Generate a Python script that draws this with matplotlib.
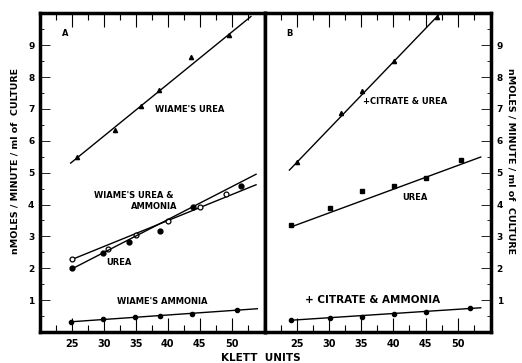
import matplotlib.pyplot as plt
from matplotlib.ticker import MultipleLocator, FixedLocator

# Panel A
wu_x = [25.8, 31.7, 35.8, 38.6, 43.7, 49.6]
wu_y = [5.5, 6.33, 7.08, 7.6, 8.63, 9.31]
wu_line_x = [24.8, 53.0]
wu_line_y = [5.3, 9.9]

wua_x = [25, 30.7, 35, 40, 45.1, 49.1]
wua_y = [2.28, 2.6, 3.04, 3.49, 3.91, 4.33]
wua_line_x = [24.8, 53.8]
wua_line_y = [2.26, 4.62]

ureaA_x = [25, 29.9, 33.9, 38.8, 44.0, 51.4]
ureaA_y = [2.0, 2.47, 2.81, 3.18, 3.93, 4.59]
ureaA_line_x = [24.8, 53.8]
ureaA_line_y = [1.96, 4.95]

wa_x = [24.8, 29.8, 34.8, 38.8, 43.8, 50.8]
wa_y = [0.32, 0.4, 0.46, 0.5, 0.58, 0.69]
wa_line_x = [24.8, 54.0]
wa_line_y = [0.32, 0.73]

# Panel B
cu_x = [25, 31.9, 35.1, 40.1, 46.8]
cu_y = [5.32, 6.86, 7.57, 8.5, 9.87]
cu_line_x = [23.8, 47.0]
cu_line_y = [5.08, 9.94]

ureaB_x = [24.1, 30.1, 35.1, 40.1, 45.1, 50.5]
ureaB_y = [3.35, 3.89, 4.42, 4.58, 4.83, 5.39]
ureaB_line_x = [24.1, 53.6]
ureaB_line_y = [3.3, 5.49]

ca_x = [24.1, 30.1, 35.1, 40.1, 45.1, 51.9]
ca_y = [0.38, 0.45, 0.48, 0.55, 0.64, 0.74]
ca_line_x = [24.1, 53.6]
ca_line_y = [0.37, 0.76]

x_ticks = [25, 30, 35, 40, 45, 50]
y_ticks = [1, 2, 3, 4, 5, 6, 7, 8, 9]
ylabel = 'nMOLES / MINUTE / ml of  CULTURE'

plt.rcParams['font.family'] = 'DejaVu Sans'
plt.rcParams['font.weight'] = 'bold'

fig = plt.figure(figsize=(5.22, 3.63), dpi=100)
axA = fig.add_axes([0.0766, 0.0854, 0.4311, 0.878])
axB = fig.add_axes([0.5077, 0.0854, 0.4329, 0.878])

for ax in (axA, axB):
    ax.set_xlim(20, 55.2)
    ax.set_ylim(0, 10)
    ax.xaxis.set_major_locator(FixedLocator(x_ticks))
    ax.xaxis.set_minor_locator(MultipleLocator(2.5))
    ax.yaxis.set_major_locator(FixedLocator(y_ticks))
    ax.yaxis.set_minor_locator(MultipleLocator(0.5))
    for s in ax.spines.values():
        s.set_linewidth(2.5)
    ax.tick_params(axis='x', which='both', direction='in', top=True, bottom=True,
                   labelsize=7, pad=5)
    ax.tick_params(axis='x', which='major', length=10, width=0.8)
    ax.tick_params(axis='x', which='minor', length=5, width=0.8)

axA.tick_params(axis='y', which='both', direction='in', left=True, right=False,
                labelsize=6.5, pad=4)
axA.tick_params(axis='y', which='major', length=7, width=0.6)
axA.tick_params(axis='y', which='minor', length=3, width=0.6)
axB.tick_params(axis='y', which='both', direction='in', left=False, right=True,
                labelleft=False, labelright=True, labelsize=6.5, pad=4)
axB.tick_params(axis='y', which='major', length=7, width=0.6)
axB.tick_params(axis='y', which='minor', length=3, width=0.6)

lw = 1.0
# Panel A
axA.plot(wu_line_x, wu_line_y, color='black', lw=lw)
axA.plot(wu_x, wu_y, '^', color='black', ms=3)
axA.plot(wua_line_x, wua_line_y, color='black', lw=lw)
axA.plot(wua_x, wua_y, 'o', mfc='white', mec='black', mew=0.9, ms=3.5)
axA.plot(ureaA_line_x, ureaA_line_y, color='black', lw=lw)
axA.plot(ureaA_x, ureaA_y, 'o', color='black', ms=3.5)
axA.plot(wa_line_x, wa_line_y, color='black', lw=lw)
axA.plot(wa_x, wa_y, 'o', color='black', ms=3)

tk = dict(fontsize=6, fontweight='bold')
axA.text(23.5, 9.3, 'A', **tk)
axA.text(38, 6.9, "WIAME'S UREA", **tk)
axA.text(28.5, 4.2, "WIAME'S UREA &", **tk)
axA.text(34.3, 3.85, "AMMONIA", **tk)
axA.text(30.3, 2.1, "UREA", **tk)
axA.text(32.0, 0.88, "WIAME'S AMMONIA", **tk)

# Panel B
axB.plot(cu_line_x, cu_line_y, color='black', lw=lw)
axB.plot(cu_x, cu_y, '^', color='black', ms=3)
axB.plot(ureaB_line_x, ureaB_line_y, color='black', lw=lw)
axB.plot(ureaB_x, ureaB_y, 's', color='black', ms=3.5)
axB.plot(ca_line_x, ca_line_y, color='black', lw=lw)
axB.plot(ca_x, ca_y, 'o', color='black', ms=3)

axB.text(23.3, 9.3, 'B', **tk)
axB.text(35.2, 7.15, "+CITRATE & UREA", **tk)
axB.text(41.3, 4.15, "UREA", **tk)
axB.text(26.3, 0.92, "+ CITRATE & AMMONIA", fontsize=7.5, fontweight='bold')

axA.set_ylabel(ylabel, fontsize=6.8, fontweight='bold')
axA.yaxis.set_label_coords(-0.091, 0.536)
axB.yaxis.set_label_position('right')
axB.set_ylabel(ylabel, fontsize=6.8, fontweight='bold', rotation=-90, va='center')
axB.yaxis.set_label_coords(1.09, 0.536)
fig.text(0.5, 0.014, 'KLETT  UNITS', ha='center', va='center', fontsize=7.5,
         fontweight='bold')

fig.savefig('out.png', dpi=100)
